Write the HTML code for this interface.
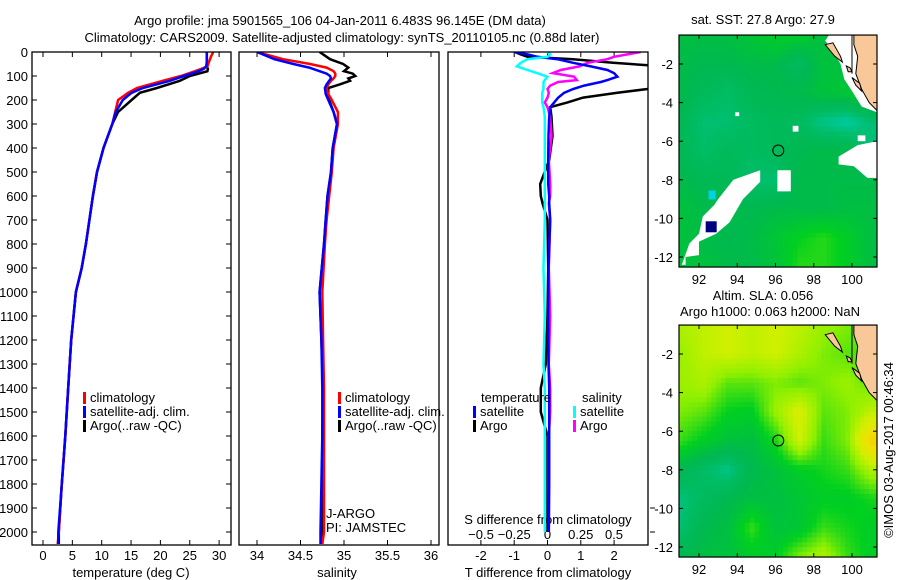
<!DOCTYPE html>
<html><head><meta charset="utf-8"><style>
body{margin:0;background:#fff}
svg{display:block}
text{font-family:"Liberation Sans",sans-serif;font-size:13px;fill:#000}
</style></head><body>
<svg id="fig" width="900" height="580" viewBox="0 0 900 580">
<defs>
<clipPath id="c1"><rect x="32" y="52" width="199" height="493"/></clipPath>
<clipPath id="c2"><rect x="239" y="52" width="200" height="493"/></clipPath>
<clipPath id="c3"><rect x="448" y="52" width="200" height="493"/></clipPath>
<clipPath id="m1"><rect x="679" y="35" width="198" height="232"/></clipPath>
<clipPath id="m2"><rect x="679" y="325" width="198" height="232"/></clipPath>
</defs>
<text x="340" y="25" text-anchor="middle">Argo profile: jma 5901565_106 04-Jan-2011 6.483S 96.145E (DM data)</text>
<text x="342" y="42" text-anchor="middle">Climatology: CARS2009. Satellite-adjusted climatology: synTS_20110105.nc (0.88d later)</text>
<g id="g1"></g>
<g id="g2"></g>
<g id="g3"></g>
<g id="gm1"></g>
<g id="gm2"></g>
<text x="763" y="24" text-anchor="middle">sat. SST: 27.8 Argo: 27.9</text>
<text x="763" y="300" text-anchor="middle">Altim. SLA: 0.056</text>
<text x="770" y="316" text-anchor="middle">Argo h1000: 0.063 h2000: NaN</text>
<text transform="translate(893,450) rotate(-90)" text-anchor="middle">©IMOS 03-Aug-2017 00:46:34</text>
</svg>
<script>
// ---- profile data ----
const depthT=[0,20,40,60,70,80,100,120,150,170,200,250,300,400,500,600,700,800,900,1000,1200,1400,1600,1800,2000,2050];
const climT=[29.0,28.6,28.3,28.0,27.0,25.9,23.5,20.4,16.0,14.5,12.8,12.3,11.8,10.3,9.2,8.5,7.9,7.3,6.6,5.6,4.8,4.3,3.8,3.2,2.7,2.5];
const satT=[27.9,27.9,27.9,27.8,27.4,26.5,24.0,21.6,17.0,15.1,13.6,12.4,11.8,10.3,9.2,8.5,7.9,7.3,6.6,5.6,4.8,4.3,3.8,3.2,2.6,2.6];
const argoT=[27.9,27.9,27.9,27.9,28.1,28.0,25.0,23.3,19.4,16.5,15.1,12.8,11.8,10.3,9.2,8.5,7.9,7.3,6.6,5.6,4.8,4.3,3.8,3.2,2.7,2.7];
const depthS=[0,30,50,65,80,90,100,110,120,135,150,175,200,250,300,400,500,600,700,800,1000,1200,1400,1600,1800,2000,2050];
const climS=[34.0,34.3,34.61,34.8,34.88,34.9,34.9,34.88,34.85,34.82,34.8,34.82,34.86,34.93,34.93,34.88,34.86,34.83,34.8,34.78,34.75,34.76,34.77,34.77,34.77,34.77,34.75];
const satS=[34.0,34.2,34.42,34.6,34.72,34.8,34.84,34.85,34.83,34.8,34.78,34.79,34.82,34.88,34.92,34.87,34.85,34.81,34.79,34.77,34.72,34.74,34.75,34.75,34.74,34.73,34.73];
const argoS=[34.72,34.84,34.99,35.05,35.0,35.1,35.13,35.05,35.07,34.95,34.82,34.82,34.83,34.88,34.92,34.87,34.85,34.81,34.79,34.77,34.72,34.74,34.76,34.75,34.75,34.75,34.75];
const depthD=[0,10,20,30,45,60,75,88,103,117,125,140,154,170,190,210,230,270,350,450,550,600,630,700,900,1100,1300,1400,1500,1600,1800,2000];
const argoDT=[-0.98,-0.8,-0.6,0.77,1.97,3.5,3.5,3.5,3.5,3.5,3.5,3.5,3.0,2.1,1.07,0.6,0.08,0.12,0.15,0.05,-0.22,-0.2,-0.15,0.0,0.02,0.0,-0.05,-0.2,-0.2,0.0,0.0,0.0];
const satDT=[-1.0,-0.6,-0.3,0.3,0.77,1.3,1.8,2.0,2.1,1.8,1.6,1.1,0.77,0.5,0.32,0.2,0.08,0.05,0.03,0.02,0.02,0.05,0.05,0.08,0.03,0.02,0.03,0.05,0.05,0.05,0.05,0.04];
const satDS=[0,0.02,0.0,-0.15,-0.2,-0.23,-0.15,-0.08,0.0,-0.02,-0.03,-0.03,-0.03,-0.04,-0.04,-0.04,-0.03,-0.02,-0.02,-0.02,-0.02,-0.02,-0.02,-0.02,-0.03,-0.02,-0.03,-0.02,-0.02,-0.02,-0.02,-0.02];
const argoDS=[0.7,0.6,0.5,0.45,0.3,0.24,0.1,0.04,0.2,0.22,0.08,0.02,0.0,0.01,0.0,-0.02,0.0,0.02,0.03,0.01,0.02,0.02,0.01,0.02,0.01,0.02,0.01,0.02,0.02,0.01,0.01,0.01];
const depthTicks=[0,100,200,300,400,500,600,700,800,900,1000,1100,1200,1300,1400,1500,1600,1700,1800,1900,2000];
const tempTicks=[0,5,10,15,20,25,30];
const salTicks=[34,34.5,35,35.5,36];
const dTTicks=[-2,-1,0,1,2];
const dSTicks=[-0.5,-0.25,0,0.25,0.5];
// ---- map data (coarse grids, rows lat -0.5..-12.5 step 1.5, cols lon 91..101 step 1.25) ----
const sstGrid=[
[.52,.52,.52,.54,.56,.56,.52,.52,.52],
[.51,.50,.50,.51,.51,.47,.53,.52,.56],
[.51,.48,.46,.49,.50,.51,.53,.54,.58],
[.49,.45,.45,.47,.48,.47,.43,.41,.45],
[.49,.46,.48,.47,.48,.50,.51,.51,.44],
[.51,.49,.49,.45,.45,.51,.51,.51,.51],
[.53,.51,.51,.50,.51,.51,.51,.52,.52],
[.53,.51,.50,.51,.54,.57,.59,.56,.52],
[.53,.53,.51,.51,.53,.59,.59,.56,.52]];
const slaGrid=[
[.68,.70,.72,.70,.72,.70,.66,.64,.62],
[.66,.70,.72,.70,.72,.68,.64,.62,.60],
[.66,.68,.62,.62,.64,.62,.64,.66,.62],
[.64,.62,.57,.56,.66,.74,.62,.64,.70],
[.60,.56,.53,.52,.58,.72,.60,.64,.84],
[.50,.46,.43,.50,.53,.56,.58,.60,.68],
[.44,.47,.50,.52,.52,.54,.56,.56,.58],
[.45,.50,.52,.60,.53,.54,.60,.58,.56],
[.50,.52,.53,.55,.56,.64,.68,.60,.56]];

const NS='http://www.w3.org/2000/svg';
function el(p,tag,at){const e=document.createElementNS(NS,tag);for(const k in at)e.setAttribute(k,at[k]);p.appendChild(e);return e;}
const yD=d=>52+d*0.24;
const xT=v=>43+v*5.87, xS=v=>257+(v-34)*87, xDT=v=>547.5+v*33.3, xDS=v=>547.5+v*133;

function line(g,xs,ds,xf,col,clip,name){
  const pts=xs.map((v,i)=>xf(v).toFixed(1)+','+yD(ds[i]).toFixed(1)).join(' ');
  const p=el(g,'polyline',{points:pts,fill:'none',stroke:col,'stroke-width':2.5,'clip-path':'url(#'+clip+')'});
  
  
}
function frame(g,x,w,name){
  const r=el(g,'rect',{x:x,y:52,width:w,height:493,fill:'none',stroke:'#000','stroke-width':1.3});
  
  
}
function xticks(g,ticks,xf,labelY,fmt){
  ticks.forEach(t=>{const x=xf(t);
    el(g,'line',{x1:x,x2:x,y1:52,y2:57,stroke:'#000'});
    el(g,'line',{x1:x,x2:x,y1:545,y2:540,stroke:'#000'});
    const tx=el(g,'text',{x:x,y:labelY,'text-anchor':'middle'});tx.textContent=fmt?fmt(t):t;
    
    
  });
}
function legend(g,x,y,items){
  items.forEach((it,i)=>{
    el(g,'rect',{x:x,y:y+i*14-10,width:3,height:12,fill:it[1]});
    const t=el(g,'text',{x:x+7,y:y+i*14});t.textContent=it[0];
    
    
  });
}
// panel 1
const g1=document.getElementById('g1');
depthTicks.forEach(d=>{const y=yD(d);
  el(g1,'line',{x1:32,x2:37,y1:y,y2:y,stroke:'#000'});el(g1,'line',{x1:231,x2:226,y1:y,y2:y,stroke:'#000'});
  const t=el(g1,'text',{x:28,y:y+5,'text-anchor':'end'});t.textContent=d;
  
  
});
xticks(g1,tempTicks,xT,560);
line(g1,argoT,depthT,xT,'#000','c1','argo-temperature-line');
line(g1,climT,depthT,xT,'#f00','c1','climatology-temperature-line');
line(g1,satT,depthT,xT,'#00f','c1','satellite-temperature-line');
frame(g1,32,199,'temperature-frame');
legend(g1,83,402,[['climatology','#f00'],['satellite-adj. clim.','#00f'],['Argo(..raw -QC)','#000']]);
let t=el(g1,'text',{x:131,y:577,'text-anchor':'middle'});t.textContent='temperature (deg C)';

// panel 2
const g2=document.getElementById('g2');
xticks(g2,salTicks,xS,560);
line(g2,argoS,depthS,xS,'#000','c2','argo-salinity-line');
line(g2,climS,depthS,xS,'#f00','c2','climatology-salinity-line');
line(g2,satS,depthS,xS,'#00f','c2','satellite-salinity-line');
frame(g2,239,200,'salinity-frame');
legend(g2,338,402,[['climatology','#f00'],['satellite-adj. clim.','#00f'],['Argo(..raw -QC)','#000']]);
t=el(g2,'text',{x:326,y:518});t.textContent='J-ARGO';
t=el(g2,'text',{x:326,y:532});t.textContent='PI: JAMSTEC';
t=el(g2,'text',{x:337,y:577,'text-anchor':'middle'});t.textContent='salinity';
// panel 3
const g3=document.getElementById('g3');
xticks(g3,dTTicks,xDT,560);
dSTicks.forEach(s=>{const x=xDS(s);const tx=el(g3,'text',{x:x,y:539,'text-anchor':'middle'});tx.textContent=(s<0?'\u2212':'')+Math.abs(s);
  });
t=el(g3,'text',{x:548,y:524,'text-anchor':'middle'});t.textContent='S difference from climatology';
line(g3,argoDT,depthD,xDT,'#000','c3','argo-t-diff-line');
line(g3,argoDS,depthD,xDS,'#f0f','c3','argo-s-diff-line');
line(g3,satDT,depthD,xDT,'#00f','c3','satellite-t-diff-line');
line(g3,satDS,depthD,xDS,'#0ff','c3','satellite-s-diff-line');
frame(g3,448,200,'difference-frame');
t=el(g3,'text',{x:481,y:402});t.textContent='temperature';
t=el(g3,'text',{x:582,y:402});t.textContent='salinity';
legend(g3,473,416,[['satellite','#00f'],['Argo','#000']]);
legend(g3,573,416,[['satellite','#0ff'],['Argo','#f0f']]);
t=el(g3,'text',{x:548,y:577,'text-anchor':'middle'});t.textContent='T difference from climatology';
[yD(1900),yD(2000)].forEach(y=>el(g3,'line',{x1:650,x2:655,y1:y,y2:y,stroke:'#000'}));

// ---- maps ----
const stops=[[0,[0,0,128]],[0.2,[0,0,255]],[0.35,[0,216,232]],[0.42,[0,200,150]],[0.46,[0,188,100]],[0.5,[0,184,80]],[0.57,[0,208,32]],[0.65,[144,240,0]],[0.72,[208,240,0]],[0.8,[240,224,0]],[0.9,[240,192,0]],[1,[240,128,0]]];
function cmap(v){for(let i=1;i<stops.length;i++){if(v<=stops[i][0]){const a=stops[i-1],b=stops[i],f=(v-a[0])/(b[0]-a[0]);
  const c=a[1].map((q,k)=>Math.round(q+(b[1][k]-q)*f));return 'rgb('+c+')';}}return 'rgb(240,128,0)';}
function sample(grid,lon,lat){
  let c=(lon-91)/1.25, r=(-0.5-lat)/1.5; c=Math.max(0,Math.min(7.999,c)); r=Math.max(0,Math.min(7.999,r));
  const c0=Math.floor(c),r0=Math.floor(r),fc=c-c0,fr=r-r0;
  return grid[r0][c0]*(1-fc)*(1-fr)+grid[r0][c0+1]*fc*(1-fr)+grid[r0+1][c0]*(1-fc)*fr+grid[r0+1][c0+1]*fc*fr;
}
const lonX=lon=>699+(lon-92)*19.125;
function drawMap(gid,grid,y0,clip,isSST){
  const g=document.getElementById(gid);
  const latY=lat=>y0+(-2-lat)*19.3;
  const cg=el(g,'g',{'clip-path':'url(#'+clip+')'});
  for(let lat=-0.25;lat>-12.8;lat-=0.25){for(let lon=90.9;lon<101.4;lon+=0.25){
    const v=sample(grid,lon+0.125,lat-0.125);
    el(cg,'rect',{x:lonX(lon).toFixed(1),y:latY(lat).toFixed(1),width:5.3,height:5.3,fill:cmap(v)});
  }}
  const P=pts=>pts.map(p=>lonX(p[0]).toFixed(1)+','+latY(p[1]).toFixed(1)).join(' ');
  if(isSST){
    [[[93.0,-9.0],[93.8,-8.0],[95.2,-7.5],[95.2,-8.1],[94.3,-9.0],[93.6,-10.2],[92.9,-10.8],[92.0,-11.2],[92.0,-11.9],[91.3,-12.0],[91.3,-12.4],[91.1,-12.4],[91.5,-11.3],[92.0,-10.8],[92.2,-9.9],[92.8,-9.3]],
     [[96.1,-7.5],[96.8,-7.5],[96.8,-8.6],[96.1,-8.6]],
     [[99.3,-6.8],[100.3,-6.2],[101.3,-6.0],[101.3,-7.9],[100.8,-7.9],[100.1,-7.3],[99.3,-7.2]],
     [[98.8,-0.5],[101.3,-0.5],[101.3,-4.5],[100.5,-4.2],[100.0,-3.4],[99.6,-2.8],[99.4,-2.0],[99.0,-1.3],[98.6,-0.8]],
     [[93.9,-4.5],[94.1,-4.5],[94.1,-4.7],[93.9,-4.7]],[[96.9,-5.2],[97.2,-5.2],[97.2,-5.5],[96.9,-5.5]],[[100.3,-5.7],[100.7,-5.7],[100.7,-6.0],[100.3,-6.0]]
    ].forEach(pp=>el(cg,'polygon',{points:P(pp),fill:'#fff'}));
    el(cg,'rect',{x:lonX(92.35),y:latY(-10.15),width:11,height:11,fill:'#000080'});
    el(cg,'rect',{x:lonX(92.5),y:latY(-8.55),width:7,height:9,fill:'#00d0e8'});
  }
  const land=el(cg,'polygon',{points:P([[100.1,-0.4],[101.4,-0.4],[101.4,-4.5],[100.9,-4.0],[100.5,-3.3],[100.2,-2.5],[100.3,-1.6],[100.1,-1.0]]),fill:'#f8c898',stroke:'#000','stroke-width':1});
  
  [[[98.6,-1.0],[99.0,-0.9],[99.4,-1.6],[99.5,-1.9],[99.1,-1.6]],[[99.7,-2.1],[99.9,-2.2],[100.0,-2.4],[99.8,-2.4]],[[100.0,-2.7],[100.4,-3.0],[100.5,-3.4],[100.2,-3.1]]].forEach(pp=>{
    const isl=el(cg,'polygon',{points:P(pp),fill:'#f8c898',stroke:'#000','stroke-width':1});
    });
  el(cg,'line',{x1:lonX(100),x2:lonX(100),y1:latY(-0.4),y2:latY(-2.5),stroke:'#000'});
  el(g,'rect',{x:679,y:latY(-0.5),width:198,height:232,fill:'none',stroke:'#000','stroke-width':1.2});
  const c=el(g,'circle',{cx:lonX(96.145),cy:latY(-6.483),r:5.5,fill:'none',stroke:'#000','stroke-width':1});
  
  [92,94,96,98,100].forEach(lon=>{const x=lonX(lon),yb=latY(-0.5)+232;
    el(g,'line',{x1:x,x2:x,y1:yb,y2:yb-4,stroke:'#000'});el(g,'line',{x1:x,x2:x,y1:latY(-0.5),y2:latY(-0.5)+4,stroke:'#000'});
    const tt=el(g,'text',{x:x,y:yb+17,'text-anchor':'middle'});tt.textContent=lon;
    });
  [-2,-4,-6,-8,-10,-12].forEach(lat=>{const y=latY(lat);
    el(g,'line',{x1:679,x2:683,y1:y,y2:y,stroke:'#000'});el(g,'line',{x1:877,x2:873,y1:y,y2:y,stroke:'#000'});
    const tt=el(g,'text',{x:673,y:y+5,'text-anchor':'end'});tt.textContent=lat;
    });
}
drawMap('gm1',sstGrid,64,'m1',true);
drawMap('gm2',slaGrid,354,'m2',false);
</script>
</body></html>
